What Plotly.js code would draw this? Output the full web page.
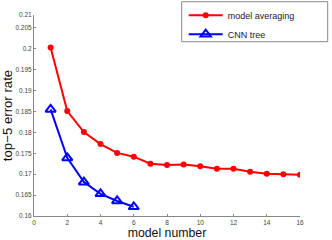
<!DOCTYPE html>
<html><head><meta charset="utf-8">
<script src="https://cdn.plot.ly/plotly-3.0.1.min.js"></script>
<style>html,body{margin:0;padding:0;background:#fff;}#c{width:332px;height:240px;}</style>
</head><body><div id="c"></div>
<script>
var modelsAvg = [1,2,3,4,5,6,7,8,9,10,11,12,13,14,15,16];
var errAvg = [0.2003,0.1851,0.1801,0.1772,0.1751,0.1742,0.1725,0.1722,0.1723,0.1719,0.1713,0.1713,0.1706,0.1701,0.1700,0.1699];
var modelsTree = [1,2,3,4,5,6];
var errTree = [0.1855,0.1739,0.1681,0.1653,0.1636,0.1622];
var yTickVals = [0.16,0.165,0.17,0.175,0.18,0.185,0.19,0.195,0.2,0.205,0.2081];
var yTickText = ['0.16','0.165','0.17','0.175','0.18','0.185','0.19','0.195','0.2','0.205','0.21'];
var xTickVals = [0,2,4,6,8,10,12,14,16];

var traces = [
 {x: modelsAvg, y: errAvg, name: 'model averaging', mode: 'lines+markers',
  line: {color: '#ff0000', width: 2}, marker: {symbol: 'circle', size: 6, color: '#ff0000'}},
 {x: modelsTree, y: errTree, name: 'CNN tree', mode: 'lines+markers',
  line: {color: '#0000ff', width: 2}, marker: {symbol: 'triangle-up-open', size: 9, color: '#0000ff', line:{width:2, color:'#0000ff'}}}
];
var layout = {
 width: 332, height: 240,
 margin: {l: 34.3, r: 31.7, t: 15.3, b: 23.7, autoexpand: false},
 paper_bgcolor: '#fff', plot_bgcolor: '#fff',
 font: {family: 'Liberation Sans, Arial, sans-serif', color: '#333'},
 showlegend: true,
 legend: {x: 0.5628, y: 1.0711, xanchor: 'left', yanchor: 'top', borderwidth: 0,
  bgcolor: 'rgba(0,0,0,0)', font: {size: 9, color: '#222'}, itemwidth: 34, tracegroupgap: 0},
 shapes: [{type: 'rect', xref: 'paper', yref: 'paper', x0: 0.5553, x1: 1.1041, y0: 0.8672, y1: 1.0662,
  line: {color: '#888', width: 1}, fillcolor: '#fff', layer: 'below'}],
 xaxis: {range: [0,16], tickvals: xTickVals, ticks: 'inside', ticklen: 2, tickcolor: '#888',
  showline: true, linecolor: '#888', linewidth: 1, showgrid: false, zeroline: false,
  tickfont: {size: 6.5, color: '#444'},
  title: {text: 'model number', font: {size: 12.3, color: '#111'}, standoff: 1}},
 yaxis: {range: [0.16, 0.2081], tickvals: yTickVals, ticktext: yTickText, ticks: 'inside', ticklen: 2, tickcolor: '#888',
  showline: true, linecolor: '#888', linewidth: 1, showgrid: false, zeroline: false,
  tickfont: {size: 6.5, color: '#444'},
  title: {text: 'top\u22125 error rate', font: {size: 13.2, color: '#111'}, standoff: 2}}
};
Plotly.newPlot('c', traces, layout, {displayModeBar: false, staticPlot: true});
</script></body></html>
